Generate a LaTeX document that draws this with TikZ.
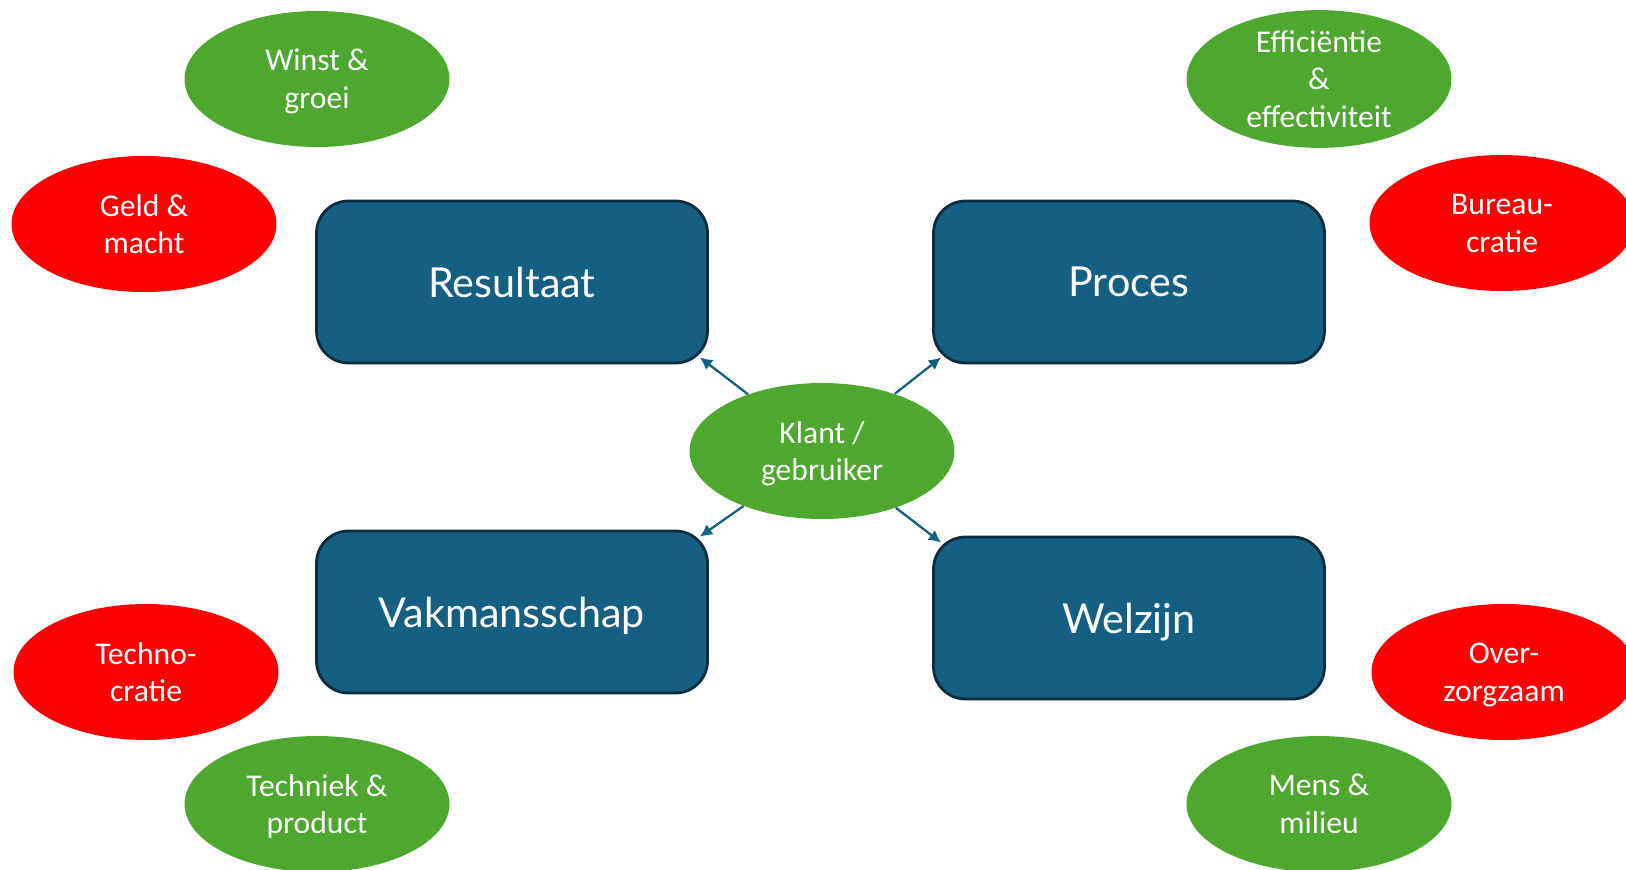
\documentclass[tikz,border=0pt]{standalone}
\usepackage{fontspec}
\setmainfont{Carlito}
\newfontfamily\boxfont{Lato}
\usetikzlibrary{shapes,positioning,arrows.meta}

\definecolor{boxblue}{HTML}{156082}
\definecolor{boxline}{HTML}{0C2C3E}
\definecolor{goodgreen}{HTML}{4EA72E}
\definecolor{badred}{HTML}{FF0000}

\begin{document}
\begin{tikzpicture}[x=0.02cm,y=-0.02cm,
  kwadrant/.style={draw=boxline,line width=1.6pt,fill=boxblue,rounded corners=0.64cm,
    minimum width=7.82cm,minimum height=3.24cm,text=white,text depth=0pt,
    font=\boxfont\fontsize{23.5}{28}\selectfont},
  waarde/.style={ellipse,fill=goodgreen,minimum width=5.3cm,minimum height=2.72cm,
    inner sep=0pt,text=white,align=center,text depth=0pt,
    font=\fontsize{18}{21.5}\selectfont},
  valkuil/.style={waarde,fill=badred},
  pijl/.style={boxblue,line width=1.3pt,-{Latex[length=7pt,width=7pt]}}]

\useasboundingbox (0,0) rectangle (1626,869);
\clip (0,0) rectangle (1626,869);

%kwadranten
\node[kwadrant] (res) at (512,282) {Resultaat};
\node[kwadrant] (proc) at (1129,282) {Proces};
\node[kwadrant] (vak) at (512,612) {Vakmansschap};
\node[kwadrant] (welz) at (1129,618) {Welzijn};

%klant in het midden
\node[waarde] (klant) at (822,451) {Klant /\\gebruiker};

%pijlen naar de kwadranten
\draw[pijl] (klant) -- ([shift={(-9,-7)}]res.south east);
\draw[pijl] (klant) -- ([shift={(9,-7)}]proc.south west);
\draw[pijl] (klant) -- ([shift={(-9,7)}]vak.north east);
\draw[pijl] (klant) -- ([shift={(9,7)}]welz.north west);

%resultaat
\node[waarde] (winst) at (317,79) {Winst \&\\groei};
\node[valkuil] (geld) at (144,224) {Geld \&\\macht};
%proces
\node[waarde] (effic) at (1319,79) {Efficiëntie\\\&\\effectiviteit};
\node[valkuil] (bureau) at (1502,223) {Bureau-\\cratie};
%vakmansschap
\node[valkuil] (techno) at (146,672) {Techno-\\cratie};
\node[waarde] (techniek) at (317,804) {Techniek \&\\product};
%welzijn
\node[valkuil] (over) at (1504,672) {Over-\\zorgzaam};
\node[waarde] (mens) at (1319,804) {Mens \&\\milieu};

\end{tikzpicture}
\end{document}
